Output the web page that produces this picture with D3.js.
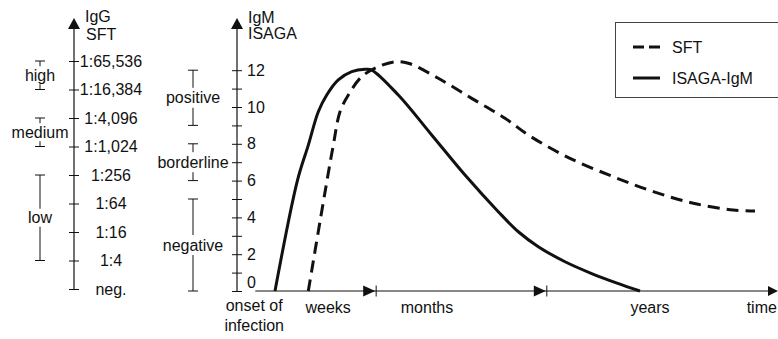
<!DOCTYPE html>
<html><head><meta charset="utf-8">
<script src="https://cdn.jsdelivr.net/npm/d3@7"></script>
<style>
body{margin:0;background:#fff}
svg{display:block;font-family:Arial,"Liberation Sans",Helvetica,sans-serif;font-size:16px}
</style>
</head><body>
<svg id="c" width="778" height="339"></svg>
<script>
// ---------------- data ----------------
const iggLabels = ["neg.","1:4","1:16","1:64","1:256","1:1,024","1:4,096","1:16,384","1:65,536"];
const iggRanges = [
  {label:"high",   from:7, to:8},
  {label:"medium", from:5, to:6},
  {label:"low",    from:1, to:4}
];
const igmTicks = [0,1,2,3,4,5,6,7,8,9,10,11,12];
const igmRanges = [
  {label:"positive",   from:9, to:12},
  {label:"borderline", from:6, to:8},
  {label:"negative",   from:0, to:5}
];
// time axis (arbitrary units 0..100)
const timeLabels = [
  {t:3.0,  lines:["onset of","infection"], anchor:"middle"},
  {t:16.7, lines:["weeks"], anchor:"middle"},
  {t:35.0, lines:["months"], anchor:"middle"},
  {t:76.3, lines:["years"], anchor:"middle"},
  {t:99.8, lines:["time"], anchor:"end"}
];
const timeMarks = [25.4, 57.0];
// SFT (IgG) curve, in IgM-axis units
const sftT = [13.02, 15.2, 17.65, 18.89, 20.43, 22.91, 25.98, 29.07, 31.54, 37.09, 43.28, 49.44, 54.07, 61.48, 69.5, 76.91, 84.31, 91.72, 95.74];
const sftV = [0, 3.8, 7.93, 9.74, 10.65, 11.65, 12.19, 12.46, 12.38, 11.56, 10.47, 9.39, 8.42, 7.21, 6.21, 5.40, 4.77, 4.40, 4.35];
// ISAGA-IgM curve
const isagaT = [6.85, 11.0, 13.02, 14.87, 16.43, 18.57, 21.06, 23.52, 24.76, 29.69, 35.87, 42.04, 48.20, 51.91, 55.61, 60.56, 65.5, 70.19, 74.44];
const isagaV = [0, 6.0, 7.93, 9.74, 10.65, 11.47, 11.92, 12.05, 12.01, 10.65, 8.48, 6.30, 4.31, 3.22, 2.41, 1.59, 0.95, 0.43, 0];
const legendItems = [{label:"SFT", dash:"11,5"}, {label:"ISAGA-IgM", dash:null}];

// ---------------- drawing ----------------
const svg = d3.select("#c");
const ink = "#111";

const yIgG = d3.scaleLinear().domain([0, 8]).range([289, 61]);
const yIgM = d3.scaleLinear().domain([0, 12]).range([291, 70.2]);
const x = d3.scaleLinear().domain([0, 100]).range([238, 778]);

function arrowUp(g, cx, tip) {
  g.append("path").attr("d", `M${cx},${tip} L${cx-6},${tip+11} L${cx+6},${tip+11} Z`).attr("fill", ink);
}

// IgG axis
const iggX = 74;
const gG = svg.append("g").attr("transform", `translate(${iggX},0)`);
gG.call(d3.axisRight(yIgG).tickValues(d3.range(iggLabels.length)).tickFormat(i => iggLabels[i]).tickSize(5));
gG.select(".domain").remove();
gG.selectAll(".tick line").attr("x1", -5).attr("x2", 5).attr("stroke", ink);
gG.selectAll(".tick text").attr("x", 37).attr("text-anchor", "middle")
  .attr("font-size", 16).attr("font-family", "Arial, 'Liberation Sans', sans-serif").attr("fill", ink);
gG.append("line").attr("x1", 0).attr("x2", 0).attr("y1", yIgG(0)).attr("y2", 26).attr("stroke", ink).attr("stroke-width", 1.2);
arrowUp(gG, 0, 18);
svg.append("text").attr("x", 85).attr("y", 22).text("IgG").attr("fill", ink);
svg.append("text").attr("x", 86).attr("y", 40).text("SFT").attr("fill", ink);

// IgM axis
const igmX = 237;
const gM = svg.append("g").attr("transform", `translate(${igmX},0)`);
gM.call(d3.axisRight(yIgM).tickValues(igmTicks).tickFormat(d => d % 2 === 0 ? d : "").tickSize(5));
gM.select(".domain").remove();
gM.selectAll(".tick line").attr("x1", -5).attr("x2", 5).attr("stroke", ink);
gM.selectAll(".tick text").attr("x", 10).attr("text-anchor", "start")
  .attr("font-size", 16).attr("font-family", "Arial, 'Liberation Sans', sans-serif").attr("fill", ink)
  .attr("dy", d => d === 0 ? "-0.2em" : "0.32em");
gM.append("line").attr("x1", 0).attr("x2", 0).attr("y1", yIgM(0)).attr("y2", 26).attr("stroke", ink).attr("stroke-width", 1.2);
arrowUp(gM, 0, 18);
svg.append("text").attr("x", 248).attr("y", 23).text("IgM").attr("fill", ink);
svg.append("text").attr("x", 248).attr("y", 39).text("ISAGA").attr("fill", ink);

// range brackets
function brackets(data, scale, bx, gap) {
  data.forEach(r => {
    const yTop = scale(r.to), yBot = scale(r.from), yc = (yTop + yBot) / 2;
    const g = svg.append("g").attr("stroke", ink).attr("stroke-width", 1);
    g.append("line").attr("x1", bx-5).attr("x2", bx+5).attr("y1", yTop).attr("y2", yTop);
    g.append("line").attr("x1", bx-5).attr("x2", bx+5).attr("y1", yBot).attr("y2", yBot);
    if (yc - gap > yTop) g.append("line").attr("x1", bx).attr("x2", bx).attr("y1", yTop).attr("y2", yc - gap);
    if (yc + gap < yBot) g.append("line").attr("x1", bx).attr("x2", bx).attr("y1", yc + gap).attr("y2", yBot);
    svg.append("text").attr("x", bx).attr("y", yc).attr("dy", "0.35em").attr("text-anchor", "middle")
      .attr("fill", ink).text(r.label);
  });
}
brackets(iggRanges, yIgG, 40, 9);
brackets(igmRanges, yIgM, 193, 10);

// time axis
const yBase = yIgM(0);
svg.append("line").attr("x1", x(3.2)).attr("x2", x(100) - 6).attr("y1", yBase).attr("y2", yBase)
  .attr("stroke", ink).attr("stroke-width", 1.2);
svg.append("path").attr("d", `M${x(100)},${yBase} L${x(100)-10},${yBase-5} L${x(100)-10},${yBase+5} Z`).attr("fill", ink);
timeMarks.forEach(t => {
  const px = x(t);
  svg.append("path").attr("d", `M${px},${yBase} L${px-12},${yBase-5.5} L${px-12},${yBase+5.5} Z`).attr("fill", ink);
  svg.append("line").attr("x1", px+1).attr("x2", px+1).attr("y1", yBase-5.5).attr("y2", yBase+5.5)
    .attr("stroke", ink).attr("stroke-width", 1);
});
timeLabels.forEach(l => {
  const t = svg.append("text").attr("x", x(l.t)).attr("text-anchor", l.anchor).attr("fill", ink);
  l.lines.forEach((s, i) => {
    t.append("tspan").attr("x", x(l.t)).attr("y", (l.lines.length > 1 ? 311 : 313) + i * 20).text(s);
  });
});

// curves
const line = d3.line().x(d => x(d[0])).y(d => yIgM(d[1])).curve(d3.curveCatmullRom.alpha(0.5));
svg.append("path").datum(sftT.map((t, i) => [t, sftV[i]])).attr("d", line)
  .attr("fill", "none").attr("stroke", ink).attr("stroke-width", 3).attr("stroke-dasharray", "12,7");
svg.append("path").datum(isagaT.map((t, i) => [t, isagaV[i]])).attr("d", line)
  .attr("fill", "none").attr("stroke", ink).attr("stroke-width", 3);

// legend
const lg = svg.append("g");
lg.append("rect").attr("x", 615.5).attr("y", 22.5).attr("width", 180).attr("height", 75)
  .attr("fill", "none").attr("stroke", "#444").attr("stroke-width", 1);
legendItems.forEach((it, i) => {
  const yy = 47 + i * 31;
  lg.append("line").attr("x1", 633).attr("x2", 660).attr("y1", yy).attr("y2", yy)
    .attr("stroke", ink).attr("stroke-width", 3).attr("stroke-dasharray", it.dash);
  lg.append("text").attr("x", 672).attr("y", yy).attr("dy", "0.35em").attr("fill", ink).text(it.label);
});
</script>
</body></html>
